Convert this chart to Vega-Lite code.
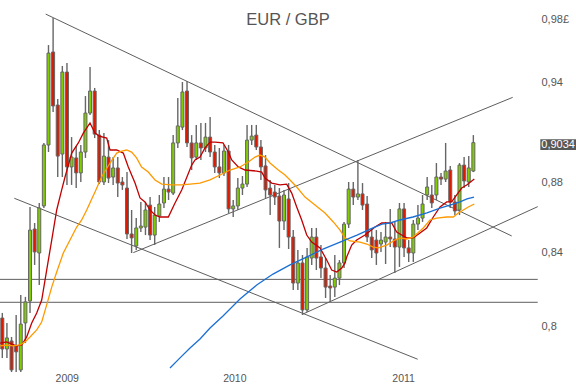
{
  "$schema": "https://vega.github.io/schema/vega-lite/v6.json",
  "width": 538,
  "height": 384,
  "autosize": {"type": "none"},
  "padding": {"left": 0, "top": 0, "right": 38, "bottom": 0},
  "background": "white",
  "title": {"text": "EUR / GBP", "fontSize": 16.5, "font": "Liberation Sans", "fontWeight": "normal", "color": "#555555", "anchor": "middle", "dx": 19, "offset": -36, "baseline": "middle"},
  "config": {"view": {"stroke": null}},
  "datasets": {
    "candles": [
      {"t":0,"o":0.8046,"h":0.8073,"l":0.7836,"c":0.7883},
      {"t":1,"o":0.7883,"h":0.8020,"l":0.7836,"c":0.7941},
      {"t":2,"o":0.7925,"h":0.7946,"l":0.7764,"c":0.7775},
      {"t":3,"o":0.7899,"h":0.8062,"l":0.7764,"c":0.7868},
      {"t":4,"o":0.7775,"h":0.8169,"l":0.7764,"c":0.8014},
      {"t":5,"o":0.8020,"h":0.8159,"l":0.7914,"c":0.8132},
      {"t":6,"o":0.8137,"h":0.8658,"l":0.8073,"c":0.8527},
      {"t":7,"o":0.8533,"h":0.8567,"l":0.8333,"c":0.8405},
      {"t":8,"o":0.8399,"h":0.8681,"l":0.8223,"c":0.8652},
      {"t":9,"o":0.8664,"h":0.9032,"l":0.8652,"c":0.9020},
      {"t":10,"o":0.9020,"h":0.9635,"l":0.8978,"c":0.9584},
      {"t":11,"o":0.9591,"h":0.9808,"l":0.9218,"c":0.9255},
      {"t":12,"o":0.9261,"h":0.9298,"l":0.8831,"c":0.8954},
      {"t":13,"o":0.8966,"h":0.9503,"l":0.8831,"c":0.9465},
      {"t":14,"o":0.9465,"h":0.9521,"l":0.8785,"c":0.8890},
      {"t":15,"o":0.8890,"h":0.9067,"l":0.8785,"c":0.8948},
      {"t":16,"o":0.8943,"h":0.9014,"l":0.8767,"c":0.8855},
      {"t":17,"o":0.8855,"h":0.9020,"l":0.8802,"c":0.8978},
      {"t":18,"o":0.8978,"h":0.9316,"l":0.8943,"c":0.9212},
      {"t":19,"o":0.9212,"h":0.9496,"l":0.9200,"c":0.9347},
      {"t":20,"o":0.9347,"h":0.9366,"l":0.9061,"c":0.9085},
      {"t":21,"o":0.9079,"h":0.9109,"l":0.8790,"c":0.8802},
      {"t":22,"o":0.8802,"h":0.9091,"l":0.8785,"c":0.8954},
      {"t":23,"o":0.8948,"h":0.9049,"l":0.8796,"c":0.8825},
      {"t":24,"o":0.8831,"h":0.8948,"l":0.8785,"c":0.8884},
      {"t":25,"o":0.8884,"h":0.8948,"l":0.8715,"c":0.8796},
      {"t":26,"o":0.8802,"h":0.8831,"l":0.8756,"c":0.8785},
      {"t":27,"o":0.8767,"h":0.8860,"l":0.8477,"c":0.8505},
      {"t":28,"o":0.8505,"h":0.8641,"l":0.8399,"c":0.8483},
      {"t":29,"o":0.8438,"h":0.8595,"l":0.8416,"c":0.8539},
      {"t":30,"o":0.8539,"h":0.8687,"l":0.8516,"c":0.8550},
      {"t":31,"o":0.8544,"h":0.8687,"l":0.8499,"c":0.8641},
      {"t":32,"o":0.8669,"h":0.8715,"l":0.8471,"c":0.8499},
      {"t":33,"o":0.8499,"h":0.8658,"l":0.8443,"c":0.8612},
      {"t":34,"o":0.8607,"h":0.8727,"l":0.8573,"c":0.8675},
      {"t":35,"o":0.8681,"h":0.8831,"l":0.8652,"c":0.8761},
      {"t":36,"o":0.8761,"h":0.8831,"l":0.8698,"c":0.8744},
      {"t":37,"o":0.8738,"h":0.9079,"l":0.8727,"c":0.9032},
      {"t":38,"o":0.9032,"h":0.9304,"l":0.9002,"c":0.9134},
      {"t":39,"o":0.9127,"h":0.9403,"l":0.9109,"c":0.9341},
      {"t":40,"o":0.9347,"h":0.9409,"l":0.9008,"c":0.9032},
      {"t":41,"o":0.9032,"h":0.9079,"l":0.8872,"c":0.8943},
      {"t":42,"o":0.8948,"h":0.9140,"l":0.8931,"c":0.9032},
      {"t":43,"o":0.9032,"h":0.9152,"l":0.8931,"c":0.9002},
      {"t":44,"o":0.9002,"h":0.9152,"l":0.8978,"c":0.9067},
      {"t":45,"o":0.9067,"h":0.9188,"l":0.8948,"c":0.8978},
      {"t":46,"o":0.8978,"h":0.9020,"l":0.8855,"c":0.8890},
      {"t":47,"o":0.8890,"h":0.9002,"l":0.8825,"c":0.8855},
      {"t":48,"o":0.8855,"h":0.9020,"l":0.8837,"c":0.8984},
      {"t":49,"o":0.8984,"h":0.9020,"l":0.8624,"c":0.8647},
      {"t":50,"o":0.8647,"h":0.8698,"l":0.8601,"c":0.8664},
      {"t":51,"o":0.8664,"h":0.8825,"l":0.8641,"c":0.8767},
      {"t":52,"o":0.8767,"h":0.8837,"l":0.8727,"c":0.8790},
      {"t":53,"o":0.8790,"h":0.9140,"l":0.8773,"c":0.9049},
      {"t":54,"o":0.9049,"h":0.9140,"l":0.9020,"c":0.9073},
      {"t":55,"o":0.9079,"h":0.9140,"l":0.8990,"c":0.9008},
      {"t":56,"o":0.9008,"h":0.9049,"l":0.8814,"c":0.8890},
      {"t":57,"o":0.8896,"h":0.8960,"l":0.8710,"c":0.8756},
      {"t":58,"o":0.8767,"h":0.8814,"l":0.8612,"c":0.8727},
      {"t":59,"o":0.8744,"h":0.8785,"l":0.8669,"c":0.8715},
      {"t":60,"o":0.8721,"h":0.8767,"l":0.8427,"c":0.8578},
      {"t":61,"o":0.8578,"h":0.8756,"l":0.8527,"c":0.8727},
      {"t":62,"o":0.8704,"h":0.8796,"l":0.8421,"c":0.8488},
      {"t":63,"o":0.8488,"h":0.8527,"l":0.8196,"c":0.8234},
      {"t":64,"o":0.8234,"h":0.8416,"l":0.8196,"c":0.8344},
      {"t":65,"o":0.8344,"h":0.8388,"l":0.8062,"c":0.8089},
      {"t":66,"o":0.8089,"h":0.8427,"l":0.8078,"c":0.8377},
      {"t":67,"o":0.8371,"h":0.8539,"l":0.8333,"c":0.8488},
      {"t":68,"o":0.8488,"h":0.8539,"l":0.8305,"c":0.8371},
      {"t":69,"o":0.8377,"h":0.8443,"l":0.8261,"c":0.8316},
      {"t":70,"o":0.8316,"h":0.8371,"l":0.8153,"c":0.8212},
      {"t":71,"o":0.8218,"h":0.8278,"l":0.8132,"c":0.8207},
      {"t":72,"o":0.8212,"h":0.8388,"l":0.8159,"c":0.8261},
      {"t":73,"o":0.8261,"h":0.8360,"l":0.8223,"c":0.8344},
      {"t":74,"o":0.8344,"h":0.8573,"l":0.8316,"c":0.8561},
      {"t":75,"o":0.8561,"h":0.8802,"l":0.8539,"c":0.8761},
      {"t":76,"o":0.8761,"h":0.8802,"l":0.8669,"c":0.8715},
      {"t":77,"o":0.8715,"h":0.8931,"l":0.8698,"c":0.8733},
      {"t":78,"o":0.8733,"h":0.8796,"l":0.8641,"c":0.8669},
      {"t":79,"o":0.8675,"h":0.8721,"l":0.8460,"c":0.8488},
      {"t":80,"o":0.8488,"h":0.8539,"l":0.8371,"c":0.8416},
      {"t":81,"o":0.8471,"h":0.8527,"l":0.8333,"c":0.8399},
      {"t":82,"o":0.8449,"h":0.8516,"l":0.8405,"c":0.8471},
      {"t":83,"o":0.8460,"h":0.8573,"l":0.8338,"c":0.8488},
      {"t":84,"o":0.8488,"h":0.8647,"l":0.8432,"c":0.8477},
      {"t":85,"o":0.8477,"h":0.8573,"l":0.8289,"c":0.8432},
      {"t":86,"o":0.8432,"h":0.8681,"l":0.8322,"c":0.8647},
      {"t":87,"o":0.8647,"h":0.8681,"l":0.8377,"c":0.8427},
      {"t":88,"o":0.8427,"h":0.8471,"l":0.8349,"c":0.8399},
      {"t":89,"o":0.8399,"h":0.8584,"l":0.8349,"c":0.8561},
      {"t":90,"o":0.8561,"h":0.8669,"l":0.8527,"c":0.8595},
      {"t":91,"o":0.8595,"h":0.8727,"l":0.8573,"c":0.8675},
      {"t":92,"o":0.8727,"h":0.8831,"l":0.8698,"c":0.8773},
      {"t":93,"o":0.8727,"h":0.8785,"l":0.8652,"c":0.8681},
      {"t":94,"o":0.8727,"h":0.8913,"l":0.8698,"c":0.8831},
      {"t":95,"o":0.8831,"h":0.8855,"l":0.8785,"c":0.8819},
      {"t":96,"o":0.8819,"h":0.9032,"l":0.8802,"c":0.8866},
      {"t":97,"o":0.8872,"h":0.8896,"l":0.8652,"c":0.8687},
      {"t":98,"o":0.8687,"h":0.8727,"l":0.8612,"c":0.8635},
      {"t":99,"o":0.8641,"h":0.8913,"l":0.8612,"c":0.8901},
      {"t":100,"o":0.8901,"h":0.8948,"l":0.8767,"c":0.8808},
      {"t":101,"o":0.8802,"h":0.8954,"l":0.8773,"c":0.8884},
      {"t":102,"o":0.8866,"h":0.9079,"l":0.8860,"c":0.9034}
    ],
    "ma": [
      {"s":"ma1","t":-0.5,"v":0.7914},{"s":"ma1","t":0.95,"v":0.7920},{"s":"ma1","t":2.04,"v":0.7909},{"s":"ma1","t":3.12,"v":0.7899},{"s":"ma1","t":4.2,"v":0.7904},{"s":"ma1","t":5.28,"v":0.7946},{"s":"ma1","t":6.37,"v":0.8020},{"s":"ma1","t":7.45,"v":0.8073},{"s":"ma1","t":8.53,"v":0.8142},{"s":"ma1","t":9.61,"v":0.8305},{"s":"ma1","t":10.7,"v":0.8471},{"s":"ma1","t":11.78,"v":0.8641},{"s":"ma1","t":12.86,"v":0.8756},{"s":"ma1","t":13.58,"v":0.8831},{"s":"ma1","t":15.03,"v":0.8972},{"s":"ma1","t":16.46,"v":0.9032},{"s":"ma1","t":17.54,"v":0.9091},{"s":"ma1","t":18.99,"v":0.9152},{"s":"ma1","t":20.07,"v":0.9091},{"s":"ma1","t":21.0,"v":0.9073},{"s":"ma1","t":22.61,"v":0.9061},{"s":"ma1","t":23.32,"v":0.8990},{"s":"ma1","t":24.77,"v":0.8990},{"s":"ma1","t":26.2,"v":0.8972},{"s":"ma1","t":27.28,"v":0.8890},{"s":"ma1","t":28.74,"v":0.8796},{"s":"ma1","t":29.82,"v":0.8710},{"s":"ma1","t":30.9,"v":0.8687},{"s":"ma1","t":31.98,"v":0.8641},{"s":"ma1","t":33.07,"v":0.8612},{"s":"ma1","t":34.15,"v":0.8601},{"s":"ma1","t":35.95,"v":0.8601},{"s":"ma1","t":37.4,"v":0.8681},{"s":"ma1","t":38.85,"v":0.8756},{"s":"ma1","t":41.01,"v":0.8901},{"s":"ma1","t":41.73,"v":0.8931},{"s":"ma1","t":42.81,"v":0.8948},{"s":"ma1","t":43.89,"v":0.9002},{"s":"ma1","t":44.98,"v":0.9037},{"s":"ma1","t":46.06,"v":0.9037},{"s":"ma1","t":47.79,"v":0.9032},{"s":"ma1","t":48.94,"v":0.8978},{"s":"ma1","t":49.68,"v":0.8931},{"s":"ma1","t":51.1,"v":0.8890},{"s":"ma1","t":52.56,"v":0.8872},{"s":"ma1","t":55.09,"v":0.8866},{"s":"ma1","t":56.17,"v":0.8860},{"s":"ma1","t":56.89,"v":0.8825},{"s":"ma1","t":58.34,"v":0.8796},{"s":"ma1","t":60.13,"v":0.8785},{"s":"ma1","t":61.58,"v":0.8790},{"s":"ma1","t":62.67,"v":0.8738},{"s":"ma1","t":63.75,"v":0.8658},{"s":"ma1","t":64.83,"v":0.8584},{"s":"ma1","t":65.92,"v":0.8499},{"s":"ma1","t":67.0,"v":0.8460},{"s":"ma1","t":68.8,"v":0.8427},{"s":"ma1","t":70.25,"v":0.8360},{"s":"ma1","t":71.33,"v":0.8305},{"s":"ma1","t":72.41,"v":0.8294},{"s":"ma1","t":73.5,"v":0.8316},{"s":"ma1","t":74.21,"v":0.8344},{"s":"ma1","t":74.58,"v":0.8377},{"s":"ma1","t":75.66,"v":0.8443},{"s":"ma1","t":76.74,"v":0.8471},{"s":"ma1","t":78.54,"v":0.8499},{"s":"ma1","t":80.7,"v":0.8544},{"s":"ma1","t":82.16,"v":0.8567},{"s":"ma1","t":84.32,"v":0.8567},{"s":"ma1","t":85.4,"v":0.8516},{"s":"ma1","t":86.49,"v":0.8499},{"s":"ma1","t":87.57,"v":0.8483},{"s":"ma1","t":89.0,"v":0.8483},{"s":"ma1","t":90.45,"v":0.8511},{"s":"ma1","t":91.9,"v":0.8539},{"s":"ma1","t":93.33,"v":0.8601},{"s":"ma1","t":94.78,"v":0.8658},{"s":"ma1","t":96.23,"v":0.8687},{"s":"ma1","t":97.31,"v":0.8687},{"s":"ma1","t":98.4,"v":0.8727},{"s":"ma1","t":99.48,"v":0.8767},{"s":"ma1","t":100.56,"v":0.8785},{"s":"ma1","t":102.21,"v":0.8819},
      {"s":"ma2","t":-0.5,"v":0.7899},{"s":"ma2","t":0.95,"v":0.7904},{"s":"ma2","t":2.38,"v":0.7899},{"s":"ma2","t":3.83,"v":0.7904},{"s":"ma2","t":4.92,"v":0.7920},{"s":"ma2","t":6.0,"v":0.7946},{"s":"ma2","t":7.45,"v":0.7983},{"s":"ma2","t":8.53,"v":0.8025},{"s":"ma2","t":9.61,"v":0.8116},{"s":"ma2","t":10.7,"v":0.8212},{"s":"ma2","t":11.78,"v":0.8294},{"s":"ma2","t":13.21,"v":0.8399},{"s":"ma2","t":14.66,"v":0.8471},{"s":"ma2","t":16.11,"v":0.8544},{"s":"ma2","t":17.19,"v":0.8584},{"s":"ma2","t":18.28,"v":0.8641},{"s":"ma2","t":19.36,"v":0.8704},{"s":"ma2","t":20.07,"v":0.8744},{"s":"ma2","t":21.5,"v":0.8831},{"s":"ma2","t":23.32,"v":0.8913},{"s":"ma2","t":24.77,"v":0.8972},{"s":"ma2","t":25.85,"v":0.8984},{"s":"ma2","t":26.92,"v":0.8990},{"s":"ma2","t":28.0,"v":0.8978},{"s":"ma2","t":29.08,"v":0.8943},{"s":"ma2","t":30.16,"v":0.8890},{"s":"ma2","t":31.6,"v":0.8860},{"s":"ma2","t":33.07,"v":0.8814},{"s":"ma2","t":34.52,"v":0.8790},{"s":"ma2","t":36.68,"v":0.8785},{"s":"ma2","t":38.85,"v":0.8785},{"s":"ma2","t":40.65,"v":0.8790},{"s":"ma2","t":42.81,"v":0.8796},{"s":"ma2","t":44.98,"v":0.8814},{"s":"ma2","t":47.14,"v":0.8843},{"s":"ma2","t":49.31,"v":0.8872},{"s":"ma2","t":51.47,"v":0.8890},{"s":"ma2","t":53.27,"v":0.8919},{"s":"ma2","t":54.72,"v":0.8948},{"s":"ma2","t":55.8,"v":0.8960},{"s":"ma2","t":56.89,"v":0.8948},{"s":"ma2","t":57.97,"v":0.8913},{"s":"ma2","t":59.77,"v":0.8872},{"s":"ma2","t":61.22,"v":0.8843},{"s":"ma2","t":62.3,"v":0.8814},{"s":"ma2","t":63.75,"v":0.8773},{"s":"ma2","t":65.55,"v":0.8715},{"s":"ma2","t":67.71,"v":0.8669},{"s":"ma2","t":69.88,"v":0.8624},{"s":"ma2","t":71.68,"v":0.8573},{"s":"ma2","t":73.13,"v":0.8527},{"s":"ma2","t":74.21,"v":0.8483},{"s":"ma2","t":75.29,"v":0.8466},{"s":"ma2","t":77.46,"v":0.8460},{"s":"ma2","t":78.91,"v":0.8449},{"s":"ma2","t":80.34,"v":0.8432},{"s":"ma2","t":81.42,"v":0.8427},{"s":"ma2","t":83.24,"v":0.8443},{"s":"ma2","t":85.04,"v":0.8471},{"s":"ma2","t":86.12,"v":0.8483},{"s":"ma2","t":87.57,"v":0.8477},{"s":"ma2","t":89.0,"v":0.8488},{"s":"ma2","t":91.16,"v":0.8539},{"s":"ma2","t":92.61,"v":0.8584},{"s":"ma2","t":94.06,"v":0.8595},{"s":"ma2","t":96.23,"v":0.8601},{"s":"ma2","t":97.66,"v":0.8601},{"s":"ma2","t":98.74,"v":0.8624},{"s":"ma2","t":99.83,"v":0.8641},{"s":"ma2","t":100.91,"v":0.8658},{"s":"ma2","t":102.21,"v":0.8675},
      {"s":"ma3","t":36.31,"v":0.7785},{"s":"ma3","t":38.48,"v":0.7837},{"s":"ma3","t":40.65,"v":0.7888},{"s":"ma3","t":42.81,"v":0.7935},{"s":"ma3","t":44.98,"v":0.7993},{"s":"ma3","t":47.79,"v":0.8057},{"s":"ma3","t":51.47,"v":0.8148},{"s":"ma3","t":55.09,"v":0.8223},{"s":"ma3","t":58.62,"v":0.8283},{"s":"ma3","t":62.3,"v":0.8333},{"s":"ma3","t":65.98,"v":0.8377},{"s":"ma3","t":69.45,"v":0.8421},{"s":"ma3","t":73.13,"v":0.8460},{"s":"ma3","t":76.81,"v":0.8499},{"s":"ma3","t":80.27,"v":0.8539},{"s":"ma3","t":82.22,"v":0.8561},{"s":"ma3","t":83.95,"v":0.8567},{"s":"ma3","t":86.12,"v":0.8584},{"s":"ma3","t":88.93,"v":0.8601},{"s":"ma3","t":91.96,"v":0.8624},{"s":"ma3","t":94.78,"v":0.8652},{"s":"ma3","t":96.95,"v":0.8669},{"s":"ma3","t":99.11,"v":0.8687},{"s":"ma3","t":100.62,"v":0.8704},{"s":"ma3","t":102.14,"v":0.8715}
    ],
    "lines": [
      {"id":"L1","t":9.4,"v":0.9834},{"id":"L1","t":110.31,"v":0.8494},
      {"id":"L2","t":2.6,"v":0.8708},{"id":"L2","t":89.95,"v":0.7830},
      {"id":"L3","t":65.01,"v":0.8066},{"id":"L3","t":115.94,"v":0.8660},
      {"id":"L4","t":28.37,"v":0.8401},{"id":"L4","t":110.52,"v":0.9308},
      {"id":"H1","t":-0.5,"v":0.8254},{"id":"H1","t":115.94,"v":0.8254},
      {"id":"H2","t":-0.5,"v":0.8130},{"id":"H2","t":115.94,"v":0.8130}
    ],
    "tag": [{"t":120.4,"v":0.9034,"label":"0,9034"}]
  },
  "layer": [
    {
      "data": {"name": "lines"},
      "mark": {"type": "line", "color": "#5e5e5e", "strokeWidth": 1},
      "encoding": {
        "x": {"field": "t", "type": "quantitative",
          "scale": {"domain": [-0.5, 116.0], "nice": false, "zero": false, "padding": 0},
          "axis": {"values": [13.95, 50.25, 86.8], "labelExpr": "datum.value < 30 ? '2009' : (datum.value < 70 ? '2010' : '2011')", "title": null, "ticks": false, "domain": false, "grid": false, "offset": -13, "labelPadding": 2, "labelFontSize": 10.5, "labelFont": "Liberation Sans", "labelColor": "#555555"}},
        "y": {"field": "v", "type": "quantitative",
          "scale": {"type": "log", "domain": [0.7703, 0.9926], "nice": false, "zero": false, "padding": 0},
          "axis": {"orient": "right", "values": [0.8, 0.84, 0.88, 0.94, 0.98], "labelExpr": "datum.value == 0.98 ? '0,98£' : replace(toString(datum.value), '.', ',')", "title": null, "ticks": false, "domain": false, "grid": false, "labelPadding": 3, "labelAlign": "left", "labelBaseline": "middle", "labelFontSize": 11, "labelFont": "Liberation Sans", "labelColor": "#555555"}},
        "detail": {"field": "id"}
      }
    },
    {
      "data": {"name": "candles"},
      "mark": {"type": "rule", "color": "#666666", "strokeWidth": 1.4},
      "encoding": {
        "x": {"field": "t", "type": "quantitative"},
        "y": {"field": "l", "type": "quantitative"},
        "y2": {"field": "h"}
      }
    },
    {
      "data": {"name": "candles"},
      "mark": {"type": "bar", "width": 3, "stroke": "#666666", "strokeWidth": 1},
      "encoding": {
        "x": {"field": "t", "type": "quantitative"},
        "y": {"field": "o", "type": "quantitative"},
        "y2": {"field": "c"},
        "fill": {"condition": {"test": "datum.c >= datum.o", "value": "#7fcc00"}, "value": "#dd1a00"}
      }
    },
    {
      "data": {"name": "ma"},
      "mark": {"type": "line", "strokeWidth": 1.3},
      "encoding": {
        "x": {"field": "t", "type": "quantitative"},
        "y": {"field": "v", "type": "quantitative"},
        "color": {"field": "s", "type": "nominal", "scale": {"domain": ["ma1", "ma2", "ma3"], "range": ["#c00000", "#ff9900", "#1a6fd4"]}, "legend": null}
      }
    },
    {
      "data": {"name": "tag"},
      "mark": {"type": "point", "shape": "M-1.8,-0.335H1.8V0.735H-1.8Z", "size": 400, "filled": true, "color": "#585858", "opacity": 1},
      "encoding": {
        "x": {"field": "t", "type": "quantitative"},
        "y": {"field": "v", "type": "quantitative"}
      }
    },
    {
      "data": {"name": "tag"},
      "mark": {"type": "text", "color": "white", "font": "Liberation Sans", "fontSize": 11, "align": "left", "baseline": "middle", "dx": -17, "dy": 2},
      "encoding": {
        "x": {"field": "t", "type": "quantitative"},
        "y": {"field": "v", "type": "quantitative"},
        "text": {"field": "label"}
      }
    }
  ]
}
